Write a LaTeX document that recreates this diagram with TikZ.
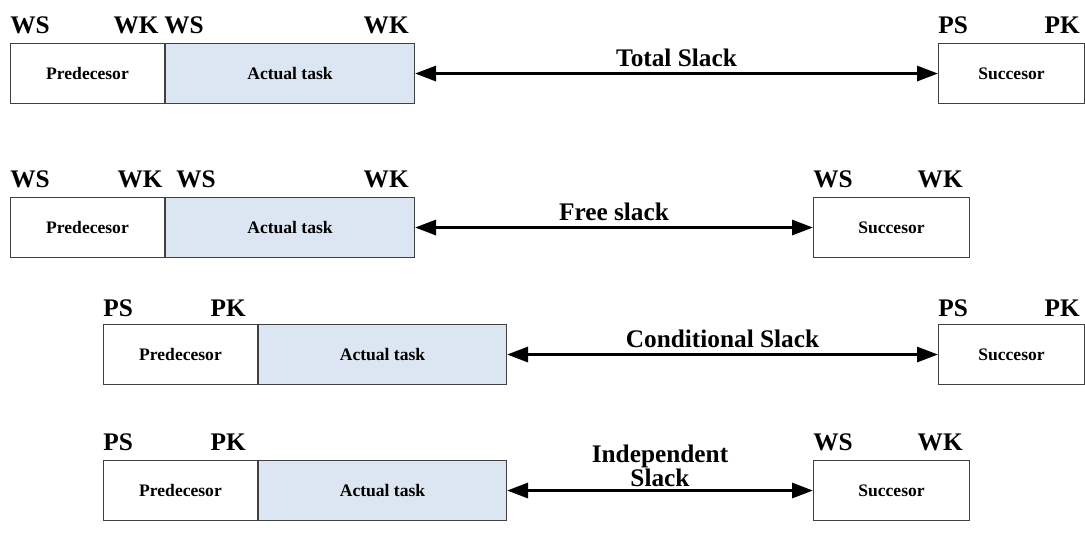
\documentclass[tikz,border=0pt]{standalone}
\usepackage{fontspec}
\setmainfont{Liberation Serif}
\usetikzlibrary{arrows.meta}
\definecolor{taskblue}{HTML}{DCE6F2}
\definecolor{edgegray}{HTML}{404040}
\tikzset{
  taskbox/.style={draw=edgegray, line width=0.6pt, anchor=north west, inner sep=0pt,
    minimum height=1.2cm, font=\fontsize{10}{11}\selectfont\bfseries},
  predbox/.style={taskbox, minimum width=3.08cm},
  actbox/.style={taskbox, fill=taskblue, minimum width=4.96cm},
  succbox/.style={taskbox, minimum width=3.12cm},
  timelbl/.style={inner sep=0pt, font=\fontsize{14.4}{15}\selectfont\bfseries},
  slacklbl/.style={inner sep=3pt, align=center, font=\fontsize{14.4}{13.5}\selectfont\bfseries},
  slack/.style={line width=1.7pt, {Triangle[length=0.42cm,width=0.3cm]}-{Triangle[length=0.42cm,width=0.3cm]}}
}
\begin{document}
\begin{tikzpicture}[x=0.02cm, y=-0.02cm]
\useasboundingbox (0,0) rectangle (1085,559);

% total slack
\node[predbox] (pred1) at (10,43) {Predecesor};
\node[actbox, minimum width=4.98cm] (task1) at (pred1.north east) {Actual task};
\node[succbox, minimum width=2.92cm] (succ1) at (938,43) {Succesor};
\node[timelbl, anchor=base west] at ([yshift=0.2cm]pred1.north west) {WS};
\node[timelbl, anchor=base east] at ([xshift=-0.12cm, yshift=0.2cm]pred1.north east) {WK};
\node[timelbl, anchor=base west] at ([xshift=-0.02cm, yshift=0.2cm]task1.north west) {WS};
\node[timelbl, anchor=base east] at ([xshift=-0.12cm, yshift=0.2cm]task1.north east) {WK};
\node[timelbl, anchor=base west] at ([yshift=0.2cm]succ1.north west) {PS};
\node[timelbl, anchor=base east] at ([xshift=-0.1cm, yshift=0.2cm]succ1.north east) {PK};
\draw[slack] (task1.east) -- (succ1.west) node[slacklbl, midway, above] {Total Slack};

% free slack
\node[predbox] (pred2) at (10,197) {Predecesor};
\node[actbox, minimum width=4.98cm] (task2) at (pred2.north east) {Actual task};
\node[succbox] (succ2) at (813,197) {Succesor};
\node[timelbl, anchor=base west] at ([yshift=0.2cm]pred2.north west) {WS};
\node[timelbl, anchor=base east] at ([xshift=-0.04cm, yshift=0.2cm]pred2.north east) {WK};
\node[timelbl, anchor=base west] at ([xshift=0.22cm, yshift=0.2cm]task2.north west) {WS};
\node[timelbl, anchor=base east] at ([xshift=-0.12cm, yshift=0.2cm]task2.north east) {WK};
\node[timelbl, anchor=base west] at ([yshift=0.2cm]succ2.north west) {WS};
\node[timelbl, anchor=base east] at ([xshift=-0.14cm, yshift=0.2cm]succ2.north east) {WK};
\draw[slack] (task2.east) -- (succ2.west) node[slacklbl, midway, above] {Free slack};

% conditional slack
\node[predbox] (pred3) at (103,324) {Predecesor};
\node[actbox] (task3) at (pred3.north east) {Actual task};
\node[succbox, minimum width=2.92cm] (succ3) at (938,324) {Succesor};
\node[timelbl, anchor=base west] at ([yshift=0.16cm]pred3.north west) {PS};
\node[timelbl, anchor=base east] at ([xshift=-0.24cm, yshift=0.16cm]pred3.north east) {PK};
\node[timelbl, anchor=base west] at ([yshift=0.16cm]succ3.north west) {PS};
\node[timelbl, anchor=base east] at ([xshift=-0.1cm, yshift=0.16cm]succ3.north east) {PK};
\draw[slack] (task3.east) -- (succ3.west) node[slacklbl, midway, above] {Conditional Slack};

% independent slack
\node[predbox] (pred4) at (103,460) {Predecesor};
\node[actbox] (task4) at (pred4.north east) {Actual task};
\node[succbox] (succ4) at (813,460) {Succesor};
\node[timelbl, anchor=base west] at ([yshift=0.2cm]pred4.north west) {PS};
\node[timelbl, anchor=base east] at ([xshift=-0.24cm, yshift=0.2cm]pred4.north east) {PK};
\node[timelbl, anchor=base west] at ([yshift=0.2cm]succ4.north west) {WS};
\node[timelbl, anchor=base east] at ([xshift=-0.14cm, yshift=0.2cm]succ4.north east) {WK};
\draw[slack] (task4.east) -- (succ4.west) node[slacklbl, midway, above, inner sep=0pt, yshift=0.05cm] {Independent\\Slack};
\end{tikzpicture}
\end{document}
